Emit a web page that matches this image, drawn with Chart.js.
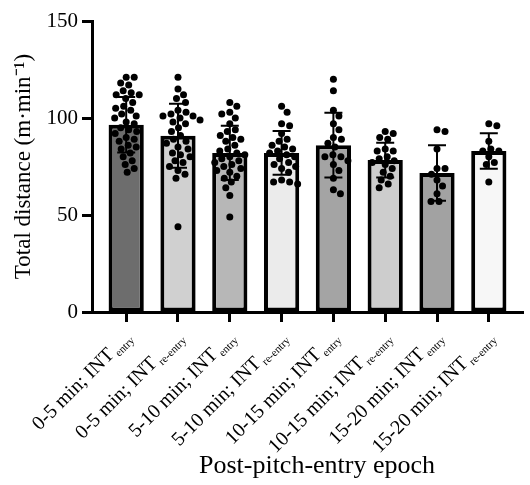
<!DOCTYPE html>
<html>
<head>
<meta charset="utf-8">
<script src="https://cdn.jsdelivr.net/npm/chart.js"></script>
<style>
    html, body { margin: 0; padding: 0; background: #fff; }
    #wrap { width: 530px; height: 485px; }
</style>
</head>
<body>
<div id="wrap"><canvas id="barChartEpochs" width="530" height="485"></canvas></div>
<script>
// ==================== Data ====================
const epochLabels = ['0-5 min; INT', '0-5 min; INT', '5-10 min; INT', '5-10 min; INT',
                     '10-15 min; INT', '10-15 min; INT', '15-20 min; INT', '15-20 min; INT'];
const epochSubs = ['entry', 're-entry', 'entry', 're-entry', 'entry', 're-entry', 'entry', 're-entry'];
const meanDistance = [96.5, 90.9, 82.0, 82.0, 86.0, 78.3, 71.6, 83.0];
const sdDistance = [14.3, 16.5, 14.0, 11.3, 16.7, 9.0, 14.3, 9.2];
const yTicks = [0, 50, 100, 150];

const pts0 = [121, 121, 118, 117, 114, 113, 112, 112, 110, 108, 106, 105, 104, 102, 101, 100, 98,
              97, 95, 94, 93, 92, 90, 89, 88, 86, 85, 84, 82, 80, 78, 76, 74, 72];
const pts1 = [121, 115, 112, 110, 108, 104, 103, 102, 101, 101, 100, 99, 98, 97, 95, 93, 91, 89,
              88, 87, 85, 84, 82, 81, 80, 78, 77, 75, 73, 71, 69, 44];
const pts2 = [108, 106, 103, 102, 100, 97, 94, 93, 91, 90, 89, 88, 86, 84, 83, 82, 81, 80, 79,
              78, 77, 76, 75, 74, 73, 72, 70, 69, 67, 64, 60, 49];
const pts3 = [106, 103, 97, 96, 92, 89, 88, 86, 85, 84, 83, 82, 81, 80, 79, 77, 76, 75, 74, 72,
              68, 67, 67, 66];
const pts4 = [120, 114, 104, 101, 97, 94, 90, 89, 87, 85, 81, 80, 80, 78, 76, 73, 69, 63, 61];
const pts5 = [93, 92, 90, 89, 84, 83, 83, 80, 79, 78, 77, 76, 74, 72, 70, 68, 66, 64];
const pts6 = [94, 93, 84, 74, 74, 71, 68, 65, 61, 57, 57];
const pts7 = [97, 96, 88, 84, 83, 83, 80, 77, 76, 67];
const groupPoints = [pts0, pts1, pts2, pts3, pts4, pts5, pts6, pts7];

const barColors = ['#6d6d6d', '#d0d0d0', '#b7b7b7', '#ebebeb', '#a4a4a4', '#cdcdcd', '#a2a2a2', '#f7f7f7'];

// ==================== Beeswarm layout (px) ====================
const PX_PER_Y = 1.94, PX_PER_X = 51.7, DOT_GAP = 8;
function swarmOffsets(values) {
    const order = values.map((v, i) => i).sort((a, b) => values[b] - values[a]);
    const placed = [];
    const out = new Array(values.length).fill(0);
    order.forEach(i => {
        const py = values[i] * PX_PER_Y;
        for (let k = 0; k < 400; k++) {
            const cand = (k % 2 ? 1 : -1) * Math.ceil(k / 2) * 0.5;
            const ok = placed.every(p => (p.x - cand) ** 2 + (p.y - py) ** 2 >= DOT_GAP * DOT_GAP);
            if (ok) { out[i] = cand; placed.push({ x: cand, y: py }); break; }
        }
    });
    return out;
}

const dotData = [];
groupPoints.forEach((vals, g) => {
    const offs = swarmOffsets(vals);
    vals.forEach((v, j) => dotData.push({ x: g + offs[j] / PX_PER_X, y: v }));
});

// ==================== Plugins ====================
const errorBars = {
    id: 'errorBars',
    afterDatasetsDraw(chart) {
        const { ctx, scales: { x, y } } = chart;
        ctx.save();
        ctx.strokeStyle = '#000';
        ctx.lineWidth = 2;
        meanDistance.forEach((m, i) => {
            const px = x.getPixelForValue(i);
            const top = y.getPixelForValue(m + sdDistance[i]);
            const bot = y.getPixelForValue(m - sdDistance[i]);
            ctx.beginPath();
            ctx.moveTo(px, top); ctx.lineTo(px, bot);
            ctx.moveTo(px - 9, top); ctx.lineTo(px + 9, top);
            ctx.moveTo(px - 9, bot); ctx.lineTo(px + 9, bot);
            ctx.stroke();
        });
        ctx.restore();
    }
};

const epochTickLabels = {
    id: 'epochTickLabels',
    afterDraw(chart) {
        const { ctx, scales: { x }, chartArea } = chart;
        ctx.save();
        ctx.fillStyle = '#000';
        epochLabels.forEach((t, i) => {
            const px = x.getPixelForValue(i);
            ctx.save();
            ctx.translate(px + 2, chartArea.bottom + 22);
            ctx.rotate(-Math.PI / 4);
            ctx.textAlign = 'right';
            ctx.textBaseline = 'alphabetic';
            ctx.font = '11px "Liberation Serif"';
            const sw = ctx.measureText(epochSubs[i]).width;
            ctx.fillText(epochSubs[i], 0, 10);
            ctx.font = '20px "Liberation Serif"';
            ctx.fillText(t, -sw - 2, 6);
            ctx.restore();
        });
        ctx.font = '26px "Liberation Serif"';
        ctx.textAlign = 'center';
        ctx.textBaseline = 'alphabetic';
        ctx.fillText('Post-pitch-entry epoch', 317, 473);
        ctx.restore();
    }
};

// ==================== BAR CHART ====================
const ctx = document.getElementById('barChartEpochs').getContext('2d');
new Chart(ctx, {
    type: 'bar',
    data: {
        datasets: [{
            type: 'scatter',
            data: dotData,
            backgroundColor: '#000',
            borderWidth: 0,
            pointRadius: 3.5,
            order: 1
        }, {
            type: 'bar',
            data: meanDistance.map((m, i) => ({ x: i, y: m })),
            backgroundColor: barColors,
            borderColor: '#000',
            borderWidth: 4,
            borderSkipped: false,
            barPercentage: 0.68,
            categoryPercentage: 1,
            order: 2
        }]
    },
    options: {
        responsive: false,
        animation: false,
        devicePixelRatio: 1,
        layout: { padding: { top: 21, right: 7, bottom: 0, left: 0 } },
        plugins: { legend: { display: false }, tooltip: { enabled: false } },
        scales: {
            x: {
                type: 'linear',
                offset: false,
                min: -0.66,
                max: 7.66,
                afterBuildTicks: s => { s.ticks = epochLabels.map((_, i) => ({ value: i })); },
                afterFit: s => { s.height = 173; },
                ticks: { display: false },
                grid: { display: true, offset: false, drawOnChartArea: false, drawTicks: true, tickLength: 10, tickWidth: 3, tickColor: '#000' },
                border: { display: true, color: '#000', width: 3 }
            },
            y: {
                min: 0,
                max: 150,
                afterBuildTicks: s => { s.ticks = yTicks.map(v => ({ value: v })); },
                afterFit: s => { s.width = 92; },
                ticks: { color: '#000', padding: 4, font: { family: 'Liberation Serif', size: 21 } },
                grid: { display: true, drawOnChartArea: false, drawTicks: true, tickLength: 10, tickWidth: 3, tickColor: '#000' },
                border: { display: true, color: '#000', width: 3 },
                title: {
                    display: true,
                    text: 'Total distance (m·min⁻¹)',
                    color: '#000',
                    padding: { top: 10, bottom: 0 },
                    font: { family: 'Liberation Serif', size: 23 }
                }
            }
        }
    },
    plugins: [errorBars, epochTickLabels]
});
</script>
</body>
</html>
